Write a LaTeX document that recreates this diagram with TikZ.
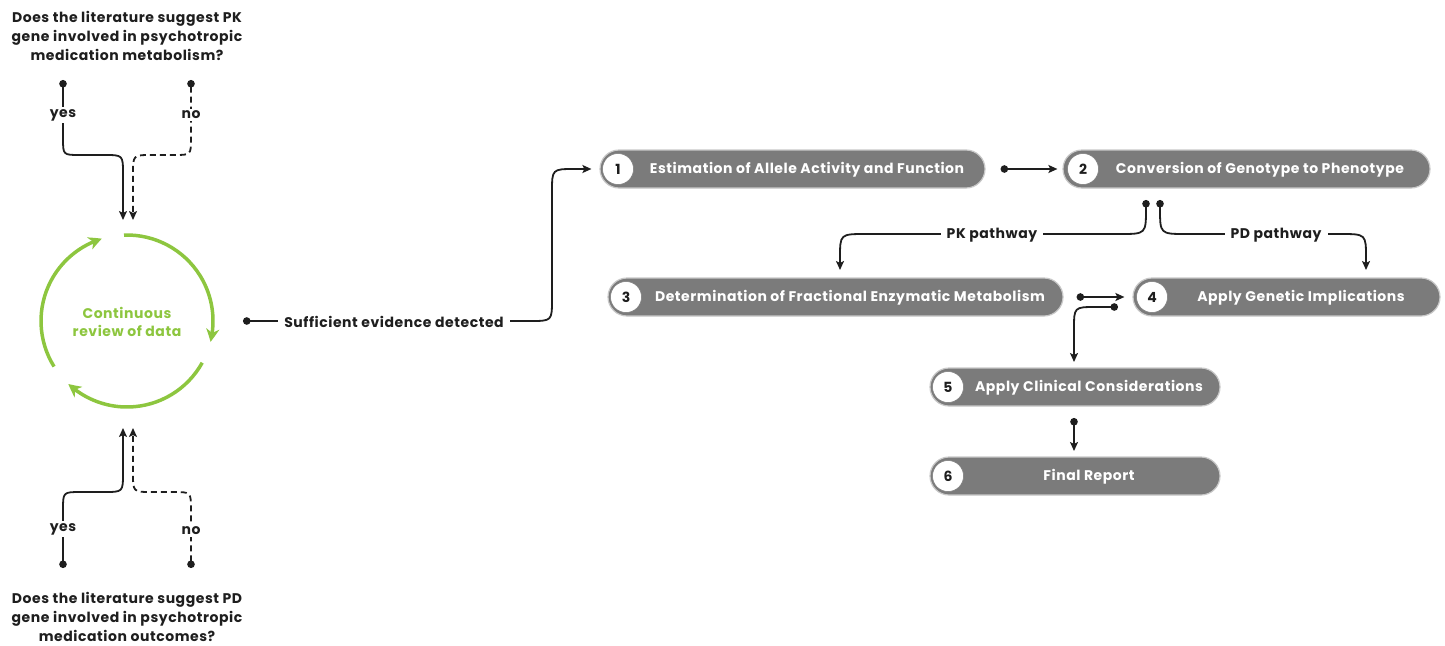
\documentclass[tikz,border=0pt]{standalone}
\usepackage{fontspec}
\setmainfont{Poppins}[LetterSpace=4]
\usetikzlibrary{arrows.meta,calc,bending}
\definecolor{pillgray}{RGB}{123,123,123}
\definecolor{pillline}{RGB}{200,200,200}
\definecolor{ink}{RGB}{30,30,30}
\definecolor{leaf}{RGB}{141,198,63}
\newcommand{\fs}{\fontsize{14}{17}\selectfont}
\tikzset{
  pill/.style={draw=pillline, line width=1.2pt, fill=pillgray, rounded corners=19pt, minimum height=38pt, inner sep=0pt},
  numc/.style={circle, fill=white, draw=pillgray, line width=0.5pt, minimum size=31pt, inner sep=0pt, text=ink, font=\bfseries\fs},
  ptext/.style={text=white, font=\bfseries\fs, inner sep=0pt},
  lbl/.style={text=ink, fill=white, font=\bfseries\fs, inner xsep=6pt, inner ysep=2pt},
  qtext/.style={text=ink, align=center, font=\bfseries\fontsize{14}{19}\selectfont, inner sep=0pt},
  conn/.style={draw=ink, line width=1.8pt, {Circle[length=7.5pt]}-{Stealth[length=9pt,width=8pt,inset=2pt]}},
  dashconn/.style={conn, dash pattern=on 6pt off 4pt},
  cyc/.style={draw=leaf, line width=3.5pt, -{Stealth[length=13pt,width=13pt,inset=4pt,bend]}},
}
\begin{document}
\begin{tikzpicture}[x=1pt,y=-1pt]
\useasboundingbox (0,0) rectangle (1445,645);

% ---- cycle
\coordinate (cc) at (127,321);
\draw[cyc] ($(cc)+(-92:86)$) arc[start angle=-92, end angle=14, radius=86];
\draw[cyc] ($(cc)+(29:86)$) arc[start angle=29, end angle=133, radius=86];
\draw[cyc] ($(cc)+(148:86)$) arc[start angle=148, end angle=253, radius=86];
\node[text=leaf, align=center, font=\bfseries\fontsize{14}{18}\selectfont] (cyctext) at (127,322) {Continuous\\review of data};

% ---- questions
\node[qtext] (qtop) at (127,36) {Does the literature suggest PK\\gene involved in psychotropic\\medication metabolism?};
\node[qtext] (qbot) at (127,617) {Does the literature suggest PD\\gene involved in psychotropic\\medication outcomes?};

\coordinate (ty) at (63,80);
\coordinate (tn) at (191,80);
\coordinate (tya) at (123,220);
\coordinate (tna) at (133,220);
\coordinate (by) at (63,568);
\coordinate (bn) at (191,568);
\coordinate (bya) at (123,428);
\coordinate (bna) at (133,428);

\draw[conn] (ty) -- (63,138) .. controls (63,155) .. (80,155) -- (104,155) .. controls (123,155) .. (123,174) -- (tya);
\draw[dashconn] (tn) -- (191,138) .. controls (191,155) .. (174,155) -- (152,155) .. controls (133,155) .. (133,174) -- (tna);
\node[lbl] (tno) at (191,115) {no};
\node[lbl] (tyes) at (63,115) {yes};

\draw[conn] (by) -- (63,510) .. controls (63,492) .. (81,492) -- (104,492) .. controls (123,492) .. (123,473) -- (bya);
\draw[dashconn] (bn) -- (191,510) .. controls (191,492) .. (173,492) -- (152,492) .. controls (133,492) .. (133,473) -- (bna);
\node[lbl] (byes) at (63,529) {yes};
\node[lbl] (bno) at (191,531) {no};

% ---- pills
\node[pill, minimum width=385pt] (p1) at (792.5,169) {};
\node[numc] (c1) at (618,169) {1};
\node[ptext] (t1) at (807,170) {Estimation of Allele Activity and Function};

\node[pill, minimum width=367pt] (p2) at (1246.5,169) {};
\node[numc] (c2) at (1083,169) {2};
\node[ptext] (t2) at (1260,170) {Conversion of Genotype to Phenotype};

\node[pill, minimum width=455pt] (p3) at (835.5,297) {};
\node[numc] (c3) at (626,297) {3};
\node[ptext] (t3) at (850,298) {Determination of Fractional Enzymatic Metabolism};

\node[pill, minimum width=307pt] (p4) at (1286.5,297) {};
\node[numc] (c4) at (1152,297) {4};
\node[ptext] (t4) at (1301,298) {Apply Genetic Implications};

\node[pill, minimum width=290pt] (p5) at (1075,387) {};
\node[numc] (c5) at (948,387) {5};
\node[ptext] (t5) at (1089,388) {Apply Clinical Considerations};

\node[pill, minimum width=290pt] (p6) at (1075,476) {};
\node[numc] (c6) at (948,476) {6};
\node[ptext] (t6) at (1089,477) {Final Report};

% ---- connectors
\coordinate (suf) at (243,321);
\draw[conn] (suf) -- (530,321) .. controls (552,321) .. (552,299) -- (552,192) .. controls (552,169) .. (575,169) -- ([xshift=-8pt]p1.west);
\node[lbl] (sufl) at (394,322) {Sufficient evidence detected};

\draw[conn] ([xshift=15pt]p1.east) -- ([xshift=-5pt]p2.west);
\draw[conn] ([xshift=13pt]p3.east) -- ([xshift=-8pt]p4.west);

\coordinate (pk0) at (1146,200);
\coordinate (pd0) at (1160,200);
\coordinate (pk1) at (840,270);
\coordinate (pd1) at (1366,270);
\draw[conn] (pk0) -- (1146,208) .. controls (1146,234) .. (1120,234) -- (866,234) .. controls (840,234) .. (840,258) -- (pk1);
\node[lbl] (pkl) at (992,235) {PK pathway};
\draw[conn] (pd0) -- (1160,208) .. controls (1160,234) .. (1186,234) -- (1340,234) .. controls (1366,234) .. (1366,258) -- (pd1);
\node[lbl] (pdl) at (1276,235) {PD pathway};

\coordinate (f4) at (1118,307);
\coordinate (f5) at (1074,362);
\draw[conn] (f4) -- (1096,307) .. controls (1074,307) .. (1074,329) -- (f5);
\coordinate (g5) at (1074,418);
\coordinate (g6) at (1074,451);
\draw[conn] (g5) -- (g6);
\end{tikzpicture}
\end{document}
